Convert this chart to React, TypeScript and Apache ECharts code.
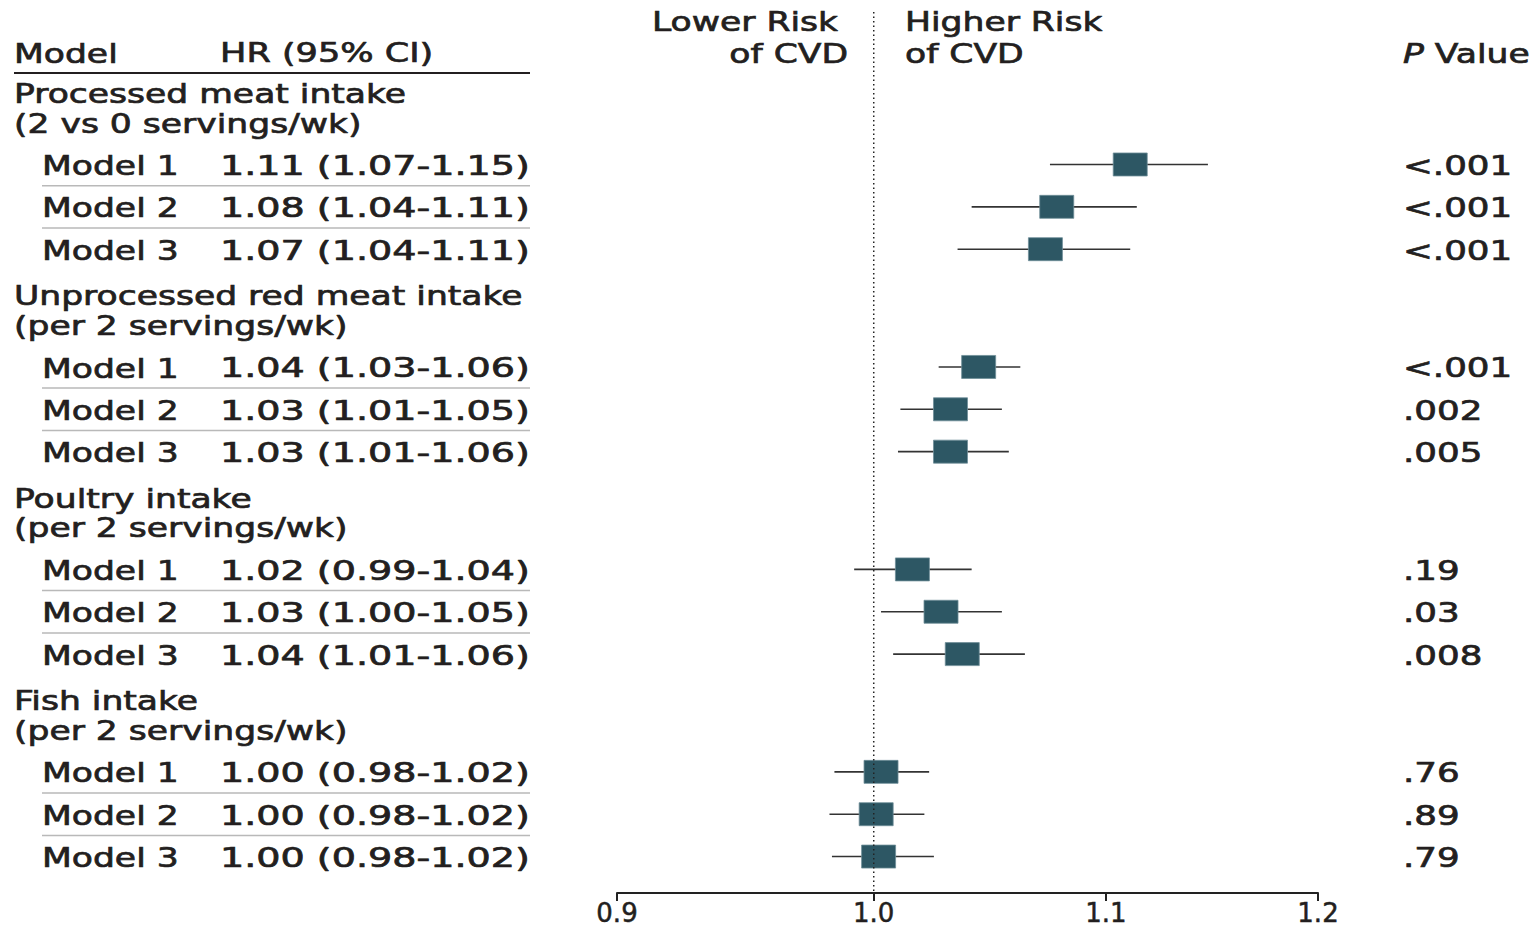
import React, { useEffect, useRef } from "react";
import * as echarts from "echarts";

const groupTitles = [
  "Processed meat intake",
  "Unprocessed red meat intake",
  "Poultry intake",
  "Fish intake",
];
const groupUnits = [
  "(2 vs 0 servings/wk)",
  "(per 2 servings/wk)",
  "(per 2 servings/wk)",
  "(per 2 servings/wk)",
];
const modelNames = ["Model 1", "Model 2", "Model 3"];
const hrLabels = [
  "1.11 (1.07-1.15)",
  "1.08 (1.04-1.11)",
  "1.07 (1.04-1.11)",
  "1.04 (1.03-1.06)",
  "1.03 (1.01-1.05)",
  "1.03 (1.01-1.06)",
  "1.02 (0.99-1.04)",
  "1.03 (1.00-1.05)",
  "1.04 (1.01-1.06)",
  "1.00 (0.98-1.02)",
  "1.00 (0.98-1.02)",
  "1.00 (0.98-1.02)",
];
const pValues = [
  "<.001", "<.001", "<.001",
  "<.001", ".002", ".005",
  ".19", ".03", ".008",
  ".76", ".89", ".79",
];
// plotted estimates, read from the marks
const hrPoint = [1.111, 1.078, 1.073, 1.044, 1.032, 1.032, 1.016, 1.028, 1.037, 1.003, 1.001, 1.002];
const ciLower = [1.075, 1.041, 1.035, 1.027, 1.011, 1.010, 0.992, 1.003, 1.008, 0.984, 0.982, 0.983];
const ciUpper = [1.147, 1.114, 1.111, 1.062, 1.054, 1.057, 1.041, 1.054, 1.064, 1.023, 1.021, 1.025];
const tickValues = [0.9, 1.0, 1.1, 1.2];

const FONT_FAMILY = '"DejaVu Sans", Verdana, sans-serif';
const FS = 27;
const SX = 1.28;
const SX_HR = 1.41;
const TEXT_COLOR = "#231f20";
const GROUP_STEP = 4.78;
const Y_MIN = -3.6;
const Y_MAX = 17.2;

function txt(x: number, y: number, text: string, align: string = "left", extra: any = {}, sx: number = SX) {
  return {
    type: "text",
    x,
    y,
    scaleX: sx,
    style: {
      text,
      fill: TEXT_COLOR,
      stroke: TEXT_COLOR,
      lineWidth: 0.7,
      font: `${FS}px ${FONT_FAMILY}`,
      fontSize: FS,
      fontFamily: FONT_FAMILY,
      align,
      textAlign: align,
      verticalAlign: "middle",
      textVerticalAlign: "middle",
      ...extra,
    },
  };
}

export default function App() {
  const ref = useRef<HTMLDivElement>(null);

  useEffect(() => {
    if (!ref.current) return;
    const chart = echarts.init(ref.current, undefined, { renderer: "svg" });

    const rowOf = (i: number) => Math.floor(i / 3) * GROUP_STEP + (i % 3);

    const forestData = hrPoint.map((v, i) => [
      Math.log(ciLower[i]),
      Math.log(ciUpper[i]),
      Math.log(v),
      rowOf(i),
      i,
    ]);
    const rowTextData = hrLabels.map((_, i) => [0, rowOf(i), i]);
    const groupData = groupTitles.map((_, g) => [0, g * GROUP_STEP, g]);
    const logTicks = tickValues.map((t) => Math.log(t));

    const option: any = {
      animation: false,
      backgroundColor: "#ffffff",
      grid: { left: 617, right: 221, top: 12, bottom: 37, containLabel: false },
      xAxis: {
        type: "value",
        position: "bottom",
        min: Math.log(0.9),
        max: Math.log(1.2),
        splitLine: { show: false },
        axisLine: { show: true, onZero: false, lineStyle: { color: "#222", width: 2 } },
        axisTick: {
          show: true,
          customValues: logTicks,
          length: 8,
          inside: false,
          lineStyle: { color: "#222", width: 2 },
        },
        axisLabel: {
          show: true,
          customValues: logTicks,
          margin: 10,
          fontSize: 26,
          lineHeight: 20,
          fontFamily: FONT_FAMILY,
          color: TEXT_COLOR,
          textBorderColor: TEXT_COLOR,
          textBorderWidth: 0.5,
          formatter: (v: number) => Math.exp(v).toFixed(1),
        },
      },
      yAxis: {
        type: "value",
        inverse: true,
        min: Y_MIN,
        max: Y_MAX,
        show: false,
      },
      graphic: [
        txt(14, 53, "Model"),
        txt(220, 53, "HR (95% CI)", "left", {}, 1.3),
        {
          type: "line",
          shape: { x1: 14, y1: 73, x2: 530, y2: 73 },
          style: { stroke: "#231f20", lineWidth: 2 },
        },
        txt(838, 21, "Lower Risk", "right"),
        txt(848, 53, "of CVD", "right"),
        txt(905, 21, "Higher Risk"),
        txt(905, 53, "of CVD"),
        txt(1403, 53, "{i|P} Value", "left", {
          rich: {
            i: {
              fontStyle: "italic",
              fontSize: FS,
              fontFamily: FONT_FAMILY,
              fill: TEXT_COLOR,
              color: TEXT_COLOR,
            },
          },
        }),
      ],
      series: [
        {
          type: "custom",
          name: "groups",
          data: groupData,
          encode: { x: 0, y: 1 },
          silent: true,
          renderItem: (params: any, api: any) => {
            const g = api.value(2);
            const y0 = api.coord([0, api.value(1) - 1.68])[1];
            const y1 = api.coord([0, api.value(1) - 0.98])[1];
            return {
              type: "group",
              children: [txt(14, y0, groupTitles[g]), txt(14, y1, groupUnits[g])],
            };
          },
          z: 2,
        },
        {
          type: "custom",
          name: "rows",
          data: rowTextData,
          encode: { x: 0, y: 1 },
          silent: true,
          renderItem: (params: any, api: any) => {
            const i = api.value(2);
            const y = api.coord([0, api.value(1)])[1] + 1;
            const children: any[] = [
              txt(42, y, modelNames[i % 3]),
              txt(220, y, hrLabels[i], "left", {}, SX_HR),
              txt(1403, y, pValues[i], "left", {}, 1.32),
            ];
            if (i % 3 < 2) {
              const ys = api.coord([0, api.value(1) + 0.5])[1];
              children.push({
                type: "line",
                shape: { x1: 42, y1: ys, x2: 530, y2: ys },
                style: { stroke: "#b9b9b9", lineWidth: 1.5 },
              });
            }
            return { type: "group", children };
          },
          z: 2,
        },
        {
          type: "custom",
          name: "forest",
          data: forestData,
          encode: { x: [0, 1, 2], y: 3 },
          silent: true,
          renderItem: (params: any, api: any) => {
            const row = api.value(3);
            const lo = api.coord([api.value(0), row]);
            const hi = api.coord([api.value(1), row]);
            const c = api.coord([api.value(2), row]);
            return {
              type: "group",
              children: [
                {
                  type: "line",
                  shape: { x1: lo[0], y1: lo[1], x2: hi[0], y2: hi[1] },
                  style: { stroke: "#333333", lineWidth: 1.6 },
                },
                {
                  type: "rect",
                  shape: { x: c[0] - 17, y: c[1] - 11.5, width: 34, height: 23 },
                  style: { fill: "#2d5764", stroke: "#6f8e98", lineWidth: 0.8 },
                },
              ],
            };
          },
          z: 3,
        },
        {
          type: "line",
          name: "null",
          data: [
            [0, Y_MIN],
            [0, Y_MAX],
          ],
          symbol: "none",
          silent: true,
          lineStyle: { color: "#222", width: 1.5, type: [1.5, 3] },
          z: 10,
        },
      ],
    };

    chart.setOption(option);
    return () => chart.dispose();
  }, []);

  return (
    <div
      ref={ref}
      style={{ position: "absolute", left: 0, top: 0, width: 1539, height: 930 }}
    />
  );
}
